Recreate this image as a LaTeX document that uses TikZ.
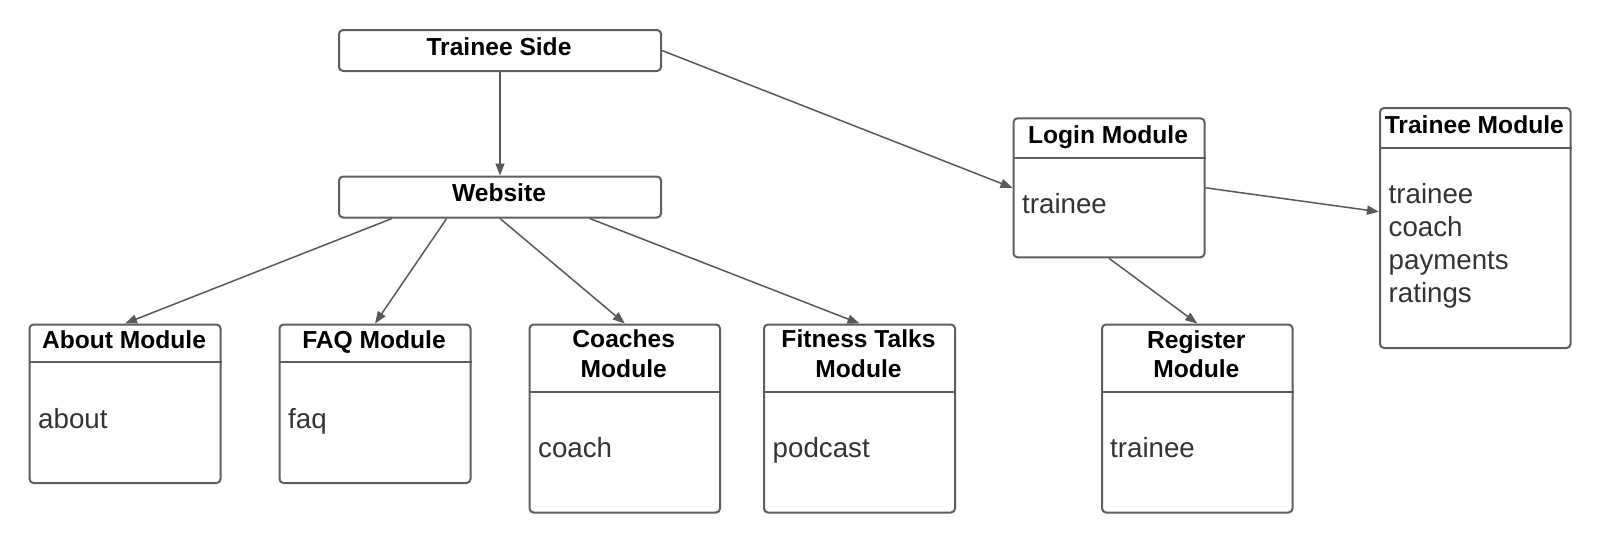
\documentclass[tikz,border=0pt]{standalone}
\usepackage{fontspec}
\setmainfont{Liberation Sans}
\usetikzlibrary{arrows.meta,calc}
\definecolor{edge}{HTML}{5E5E5E}
\definecolor{wire}{HTML}{595959}
\definecolor{bodytext}{HTML}{333333}
\tikzset{
  box/.style={draw=edge, line width=2pt, rounded corners=4pt, fill=white,
              inner sep=0pt, anchor=north west},
  divider/.style={draw=edge, line width=2pt},
  hdr/.style={font=\bfseries\fontsize{24.6}{29}\selectfont, text=black,
              inner sep=0pt, anchor=base},
  item/.style={font=\fontsize{27.7}{33}\selectfont, text=bodytext,
               inner sep=0pt, anchor=base west},
  link/.style={draw=wire, line width=1.5pt, -{Triangle[length=12pt,width=9pt]}},
}
\begin{document}
\begin{tikzpicture}[x=1pt,y=-1pt]
  \useasboundingbox[fill=white] (0,0) rectangle (1600,541);

  % top-level boxes
  \node[box, minimum width=322pt, minimum height=41pt] (ts) at (338,29) {};
  \node[hdr] (ts-h) at (499,55) {Trainee Side};
  \node[box, minimum width=322pt, minimum height=41pt] (web) at (338,175.5) {};
  \node[hdr] (web-h) at (499,201.7) {Website};

  % website modules
  \node[box, minimum width=191pt, minimum height=158.5pt] (about) at (28.5,323.5) {};
  \draw[divider] ($(about.north west)+(0,38.5)$) -- ($(about.north east)+(0,38.5)$);
  \node[hdr] (about-h) at (124,348.3) {About Module};
  \node[item] (about-b) at (38,428) {about};

  \node[box, minimum width=191pt, minimum height=158.5pt] (faq) at (278.5,323.5) {};
  \draw[divider] ($(faq.north west)+(0,38.5)$) -- ($(faq.north east)+(0,38.5)$);
  \node[hdr] (faq-h) at (374,348.3) {FAQ Module};
  \node[item] (faq-b) at (288,428) {faq};

  \node[box, minimum width=190.5pt, minimum height=188pt] (coaches) at (528.5,323.5) {};
  \draw[divider] ($(coaches.north west)+(0,68.5)$) -- ($(coaches.north east)+(0,68.5)$);
  \node[hdr] (coaches-h1) at (623.75,347.5) {Coaches};
  \node[hdr] (coaches-h2) at (623.75,377.5) {Module};
  \node[item] (coaches-b) at (538,457.7) {coach};

  \node[box, minimum width=191pt, minimum height=188pt] (fitness) at (763,323.5) {};
  \draw[divider] ($(fitness.north west)+(0,68.5)$) -- ($(fitness.north east)+(0,68.5)$);
  \node[hdr] (fitness-h1) at (858.5,347.5) {Fitness Talks};
  \node[hdr] (fitness-h2) at (858.5,377.5) {Module};
  \node[item] (fitness-b) at (772.5,457.7) {podcast};

  % login side
  \node[box, minimum width=191pt, minimum height=139pt] (login) at (1012.5,117.3) {};
  \draw[divider] ($(login.north west)+(0,41)$) -- ($(login.north east)+(0,41)$);
  \node[hdr] (login-h) at (1108,143.3) {Login Module};
  \node[item] (login-b) at (1022,213) {trainee};

  \node[box, minimum width=190.5pt, minimum height=240pt] (tm) at (1379,107) {};
  \draw[divider] ($(tm.north west)+(0,41)$) -- ($(tm.north east)+(0,41)$);
  \node[hdr] (tm-h) at (1474.3,133) {Trainee Module};
  \node[item] (tm-b1) at (1388.5,203) {trainee};
  \node[item] (tm-b2) at (1388.5,236) {coach};
  \node[item] (tm-b3) at (1388.5,269) {payments};
  \node[item] (tm-b4) at (1388.5,302) {ratings};

  \node[box, minimum width=190.5pt, minimum height=188pt] (reg) at (1101,323.5) {};
  \draw[divider] ($(reg.north west)+(0,68.5)$) -- ($(reg.north east)+(0,68.5)$);
  \node[hdr] (reg-h1) at (1196.3,348) {Register};
  \node[hdr] (reg-h2) at (1196.3,377.5) {Module};
  \node[item] (reg-b) at (1110,457.3) {trainee};

  % connectors
  \draw[link] (ts.south) -- (web.north);
  \draw[link] (ts.east) -- (login.west);
  \draw[link] ($(web.south west)!0.1668!(web.south east)$) -- (about.north);
  \draw[link] ($(web.south west)!0.3354!(web.south east)$) -- (faq.north);
  \draw[link] (web.south) -- (coaches.north);
  \draw[link] ($(web.south west)!0.777!(web.south east)$) -- (fitness.north);
  \draw[link] (login.east) -- ($(tm.north west)!0.433!(tm.south west)$);
  \draw[link] (login.south) -- (reg.north);
\end{tikzpicture}
\end{document}
